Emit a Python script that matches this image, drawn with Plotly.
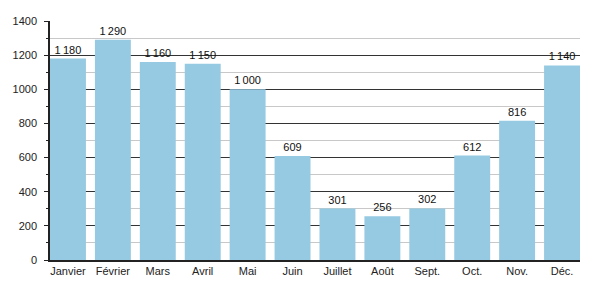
import plotly.graph_objects as go

months = ["Janvier", "Février", "Mars", "Avril", "Mai", "Juin", "Juillet",
          "Août", "Sept.", "Oct.", "Nov.", "Déc."]
values = [1180, 1290, 1160, 1150, 1000, 609, 301, 256, 302, 612, 816, 1140]

def fmt(v):
    return f"{v:,}".replace(",", "\u2009")

labels = [fmt(v) for v in values]

fig = go.Figure(go.Bar(
    x=months, y=values, text=labels, textposition="outside",
    textfont=dict(size=11, color="#111"),
    marker=dict(color="#96c9e2", line=dict(width=0)),
    cliponaxis=False, hoverinfo="skip",
))

fig.update_layout(
    width=600, height=300,
    margin=dict(l=50, r=20, t=21, b=40),
    paper_bgcolor="white", plot_bgcolor="white",
    font=dict(family="Liberation Sans, Arial, sans-serif", size=11, color="#222"),
    bargap=0.2, showlegend=False,
)
fig.update_xaxes(
    range=[-0.4, 11.4], showline=True, linecolor="#222", linewidth=1.5,
    ticks="", showgrid=False, tickfont=dict(size=11),
)
fig.update_yaxes(
    range=[0, 1400], dtick=200, tick0=0, showline=True, linecolor="#222", linewidth=1.5,
    ticks="outside", ticklen=4, tickcolor="#222", showgrid=True, gridcolor="#333",
    gridwidth=1, zeroline=False, tickfont=dict(size=11), ticklabelstandoff=5,
    minor=dict(dtick=100, ticks="outside", ticklen=2, tickcolor="#222",
               showgrid=True, gridcolor="#c8c8c8", gridwidth=1),
)

fig.write_html("out.html")
